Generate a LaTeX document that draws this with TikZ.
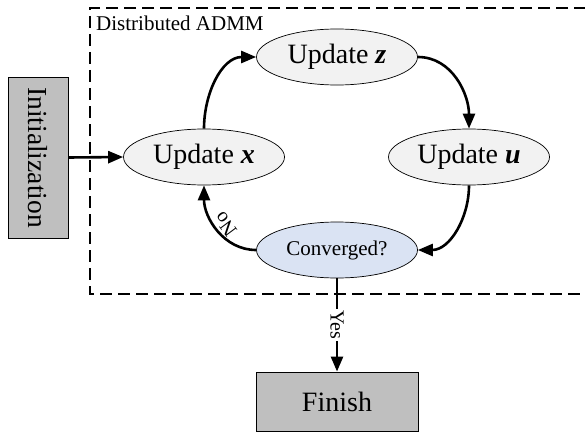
\documentclass[tikz,border=0pt]{standalone}
\usepackage{fontspec}
\setmainfont{Liberation Serif}
\usetikzlibrary{arrows.meta,shapes.geometric}
\begin{document}
\begin{tikzpicture}[x=1pt,y=1pt,
  stepnode/.style={ellipse,draw=black,line width=0.7pt,fill=updColor,
    minimum width=161pt,minimum height=56pt,inner sep=0pt,
    font=\fontsize{28}{32}\selectfont},
  testnode/.style={stepnode,fill=convColor,font=\fontsize{21}{25}\selectfont},
  termbox/.style={rectangle,draw=black,line width=0.9pt,fill=boxColor,
    inner sep=0pt,font=\fontsize{28}{32}\selectfont},
  flow/.style={draw=black,line width=2.6pt,-{Triangle[length=15pt,width=12pt]}},
  branch/.style={inner sep=1.5pt,font=\fontsize{20}{24}\selectfont}]
\definecolor{fillColor}{RGB}{255,255,255}
\definecolor{boxColor}{RGB}{191,191,191}
\definecolor{updColor}{RGB}{242,242,242}
\definecolor{convColor}{RGB}{218,227,243}
\path[use as bounding box,fill=fillColor] (0,0) rectangle (585,432);

\draw[line width=1.4pt,dash pattern=on 12pt off 6pt] (586,424) -- (90,424) -- (90,138) -- (586,138);
\node[anchor=base west,inner sep=0pt,font=\fontsize{21}{25}\selectfont] (admm) at ( 96,401) {Distributed ADMM};

\node[termbox,minimum width=60pt,minimum height=161pt] (init) at ( 38,274.5) {};
\node[rotate=-90,inner sep=0pt,font=\fontsize{27.5}{32}\selectfont] (inittext) at (init.center) {Initialization};
\node[termbox,minimum width=162pt,minimum height=59pt] (finish) at (337, 30.5) {Finish};

\node[stepnode] (updx) at (204,275) {Update \textbf{\textit{x}}};
\node[stepnode] (updz) at (337,375) {Update \textbf{\textit{z}}};
\node[stepnode] (updu) at (469,275) {Update \textbf{\textit{u}}};
\node[testnode] (conv) at (337,182) {Converged?};

\draw[flow] (init.east) -- (updx.west);
\draw[flow] (updx.north) to[out=90,in=180] (updz.west);
\draw[flow] (updz.east) to[out=0,in=90] (updu.north);
\draw[flow] (updu.south) to[out=-90,in=0] (conv.east);
\draw[flow] (conv.west) to[out=180,in=-90] node[branch,pos=0.5,sloped,allow upside down,below] (no) {No} (updx.south);
\draw[flow] (conv.south) -- node[branch,midway,rotate=-90,fill=fillColor] (yes) {Yes} (finish.north);
\end{tikzpicture}
\end{document}
